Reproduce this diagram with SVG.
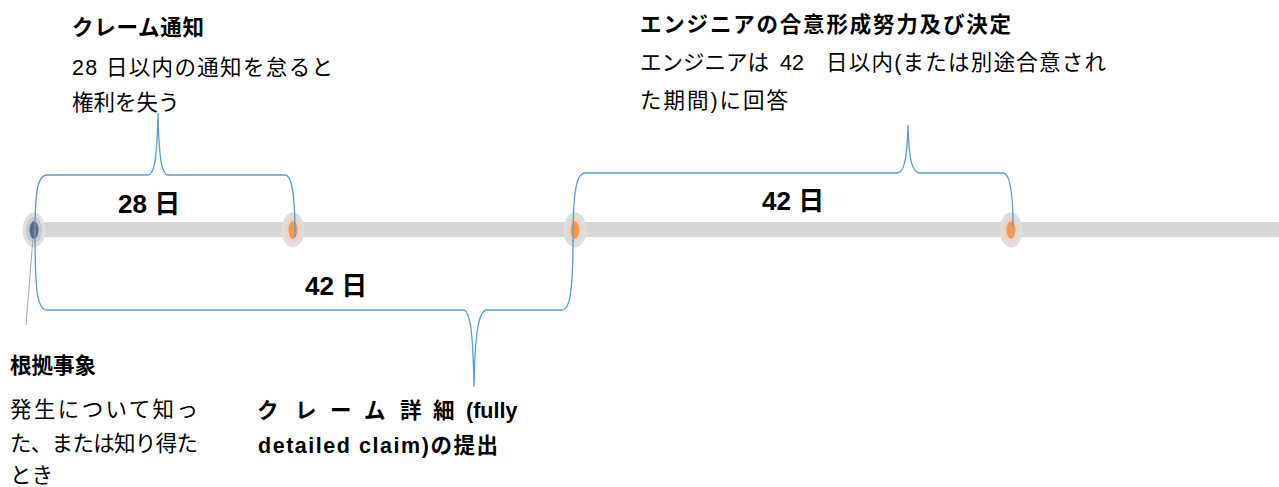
<svg xmlns="http://www.w3.org/2000/svg" width="1279" height="487" viewBox="0 0 1279 487">
<style>
  .t { font-family: "Liberation Sans", "Noto Sans CJK JP", sans-serif; font-size: 21.5px; fill: #000; }
  .b { font-weight: bold; }
  .lbl { font-family: "Liberation Sans", "Noto Sans CJK JP", sans-serif; font-size: 26px; font-weight: bold; fill: #000; }
  .brace { fill: none; stroke: #5b9bd5; stroke-width: 1.3; }
  .halo { fill: #dedede; }
  .ring-o { fill: #ebd3c6; }
  .ring-b { fill: #c6c9d1; }
  .dot-o { fill: #f59a56; }
  .dot-b { fill: #5a6a8a; }
</style>
<rect width="1279" height="487" fill="#ffffff"/>

<g id="timeline">
  <rect x="34" y="222" width="1245" height="15" fill="#d6d6d6"/>
</g>

<g id="marker-event">
  <ellipse class="halo" cx="34" cy="230" rx="11.5" ry="17.5"/>
  <ellipse class="ring-b" cx="34" cy="230" rx="8" ry="13"/>
  <ellipse class="dot-b" cx="34" cy="230" rx="4.5" ry="9"/>
</g>
<g id="marker-notice">
  <ellipse class="halo" cx="293" cy="230" rx="11.5" ry="17.5"/>
  <ellipse class="ring-o" cx="293" cy="230" rx="8" ry="13"/>
  <ellipse class="dot-o" cx="293" cy="230" rx="4.5" ry="9"/>
</g>
<g id="marker-detail">
  <ellipse class="halo" cx="575" cy="230" rx="11.5" ry="17.5"/>
  <ellipse class="ring-o" cx="575" cy="230" rx="8" ry="13"/>
  <ellipse class="dot-o" cx="575" cy="230" rx="4.5" ry="9"/>
</g>
<g id="marker-engineer">
  <ellipse class="halo" cx="1011" cy="230" rx="11.5" ry="17.5"/>
  <ellipse class="ring-o" cx="1011" cy="230" rx="8" ry="13"/>
  <ellipse class="dot-o" cx="1011" cy="230" rx="4.5" ry="9"/>
</g>

<g id="connectors">
  <path class="brace" d="M35,234 C35,195 37,175 47,175 L148,175 C154,175 157,160 158,113 C159,160 162,175 168,175 L285,175 C292,175 295,195 295,237"/>
  <path class="brace" d="M35,230 C35,290 37,310 47,310 L463,310 C470,310 473,330 474,387 C475,330 479,310 487,310 L562,310 C570,310 573,290 573,240"/>
  <path class="brace" d="M573,242 C573,200 575,173 585,173 L897,173 C904,173 907,160 908,125 C909,160 912,173 920,173 L1003,173 C1010,173 1013,195 1013,227"/>
  <line x1="33" y1="238" x2="26" y2="325" stroke="#a6a6a6" stroke-width="1"/>
</g>

<g id="label-28">
  <text class="lbl" x="118" y="213">28 日</text>
</g>
<g id="label-42-bottom">
  <text class="lbl" x="305" y="295">42 日</text>
</g>
<g id="label-42-top">
  <text class="lbl" x="762" y="210">42 日</text>
</g>

<g id="text-claim-notice">
  <text class="t b" x="72" y="35" textLength="132" lengthAdjust="spacing">クレーム通知</text>
  <text class="t" x="72" y="75" textLength="261" lengthAdjust="spacing">28 日以内の通知を怠ると</text>
  <text class="t" x="72" y="110">権利を失う</text>
</g>

<g id="text-engineer">
  <text class="t b" x="640" y="32" textLength="371" lengthAdjust="spacing">エンジニアの合意形成努力及び決定</text>
  <text class="t" x="640" y="70">エンジニアは</text>
  <text class="t" x="780" y="70">42</text>
  <text class="t" x="826" y="70" textLength="280" lengthAdjust="spacing">日以内(または別途合意され</text>
  <text class="t" x="640" y="108" textLength="148" lengthAdjust="spacing">た期間)に回答</text>
</g>

<g id="text-event">
  <text class="t b" x="10" y="373">根拠事象</text>
  <text class="t" x="10" y="417" textLength="188" lengthAdjust="spacing">発生について知っ</text>
  <text class="t" x="10" y="451" textLength="188" lengthAdjust="spacing">た、または知り得た</text>
  <text class="t" x="10" y="483">とき</text>
</g>

<g id="text-detail">
  <text class="t b" y="418"><tspan x="257">ク</tspan><tspan x="295">レ</tspan><tspan x="330">ー</tspan><tspan x="364">ム</tspan><tspan x="400">詳</tspan><tspan x="433">細</tspan><tspan x="466">(fully</tspan></text>
  <text class="t b" x="258" y="453" textLength="240" lengthAdjust="spacing">detailed claim)の提出</text>
</g>
</svg>
